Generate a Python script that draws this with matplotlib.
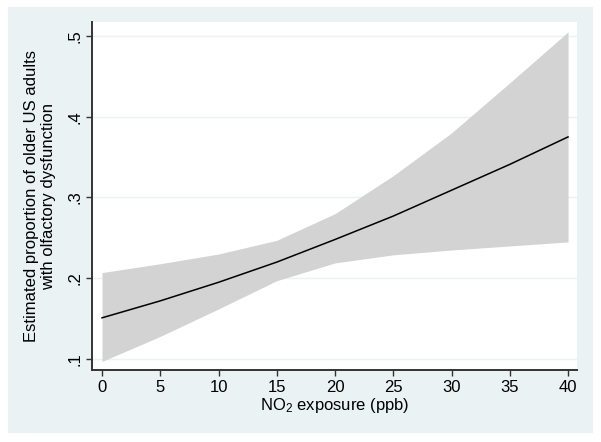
import numpy as np
import matplotlib
matplotlib.use("Agg")
import matplotlib.pyplot as plt
from matplotlib.patches import Rectangle

plt.rcParams['font.family'] = ['Liberation Sans', 'DejaVu Sans']
plt.rcParams['mathtext.fontset'] = 'custom'
plt.rcParams['mathtext.rm'] = 'Liberation Sans'
plt.rcParams['mathtext.it'] = 'Liberation Sans:italic'

# données
no2 = [0, 5, 10, 15, 20, 25, 30, 35, 40]
prop = [0.151, 0.172, 0.195, 0.220, 0.248, 0.277, 0.309, 0.341, 0.375]
ci_low = [0.097, 0.128, 0.162, 0.197, 0.219, 0.229, 0.235, 0.240, 0.245]
ci_high = [0.207, 0.218, 0.230, 0.247, 0.280, 0.327, 0.380, 0.442, 0.505]

x_ticks = [0, 5, 10, 15, 20, 25, 30, 35, 40]
y_ticks = [0.1, 0.2, 0.3, 0.4, 0.5]
y_ticklabels = [".1", ".2", ".3", ".4", ".5"]

bg = "#eaf2f3"
fs = 12

fig = plt.figure(figsize=(6.01, 4.42), dpi=100, facecolor="white")
fig.add_artist(Rectangle((8/601, 1-433/442), 585/601, 426/442,
                         transform=fig.transFigure, facecolor=bg,
                         edgecolor="none", zorder=-10))

ax = fig.add_axes([92/601, 1-370/442, 485/601, 348/442])
ax.set_facecolor("white")

# courbes
xs = np.array(no2)
ax.fill_between(xs, ci_low, ci_high, color="#d3d3d3", linewidth=0, zorder=2)
ax.plot(xs, prop, color="black", linewidth=1.1, zorder=3)

# grille horizontale
for yv in y_ticks:
    ax.axhline(yv, color=bg, linewidth=1.0, zorder=1)

ax.set_xlim(-0.86, 40.77)
ax.set_ylim(0.0864, 0.5173)
ax.set_xticks(x_ticks)
ax.set_xticklabels([str(v) for v in x_ticks], fontsize=fs)
ax.set_yticks(y_ticks)
ax.set_yticklabels(y_ticklabels, fontsize=fs, rotation=90, va="center")

for side in ["top", "right"]:
    ax.spines[side].set_visible(False)
for side in ["left", "bottom"]:
    ax.spines[side].set_color("#333333")
    ax.spines[side].set_linewidth(1.4)
ax.tick_params(direction="out", length=4, width=1.0, color="#333333", pad=3)

ax.set_xlabel("NO$_2$ exposure (ppb)", fontsize=fs, labelpad=1)
ax.set_ylabel("Estimated proportion of older US adults\nwith olfactory dysfunction",
              fontsize=fs, labelpad=8, linespacing=1.2)

fig.savefig("out.png", dpi=100, facecolor="white")
